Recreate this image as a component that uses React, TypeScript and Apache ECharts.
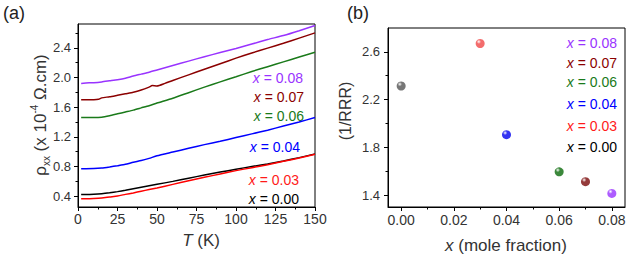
import React, { useEffect, useRef } from "react";
import * as echarts from "echarts";

// ---- Data ----
const T = [2, 5, 10, 15, 20, 25, 30, 35, 40, 45, 50, 60, 70, 80, 90, 100, 110, 120, 130, 140, 150];
const T07 = [2, 5, 10, 13, 15, 20, 25, 30, 35, 40, 45, 47, 50, 55, 60, 70, 80, 90, 100, 110, 120, 130, 140, 150];
const rho000 = [0.425, 0.425, 0.428, 0.435, 0.447, 0.462, 0.48, 0.5, 0.52, 0.54, 0.56, 0.6, 0.643, 0.685, 0.725, 0.764, 0.8, 0.835, 0.875, 0.92, 0.97];
const rho003 = [0.365, 0.365, 0.368, 0.375, 0.39, 0.404, 0.425, 0.445, 0.468, 0.49, 0.512, 0.56, 0.608, 0.655, 0.7, 0.745, 0.785, 0.825, 0.87, 0.915, 0.966];
const rho004 = [0.77, 0.77, 0.772, 0.78, 0.795, 0.812, 0.83, 0.858, 0.88, 0.91, 0.945, 0.995, 1.045, 1.095, 1.14, 1.19, 1.24, 1.29, 1.345, 1.4, 1.46];
const rho006 = [1.46, 1.46, 1.46, 1.465, 1.485, 1.51, 1.535, 1.56, 1.59, 1.62, 1.655, 1.72, 1.795, 1.87, 1.94, 2.01, 2.08, 2.145, 2.21, 2.275, 2.34];
const rho007 = [1.7, 1.7, 1.7, 1.705, 1.725, 1.74, 1.76, 1.78, 1.8, 1.83, 1.87, 1.89, 1.885, 1.92, 1.96, 2.035, 2.11, 2.185, 2.26, 2.33, 2.395, 2.46, 2.53, 2.6];
const rho008 = [1.92, 1.925, 1.93, 1.94, 1.955, 1.97, 1.99, 2.02, 2.045, 2.07, 2.1, 2.16, 2.22, 2.28, 2.335, 2.39, 2.45, 2.51, 2.565, 2.63, 2.7];

const xFrac = [0.0, 0.03, 0.04, 0.06, 0.07, 0.08];
const invRRR = [2.314, 2.67, 1.906, 1.595, 1.512, 1.414];

const yTicksA = [0.4, 0.8, 1.2, 1.6, 2.0, 2.4];
const yMinorA = [0.6, 1.0, 1.4, 1.8, 2.2, 2.6];
const xTicksB = [0.0, 0.02, 0.04, 0.06, 0.08];
const xMinorB = [0.01, 0.03, 0.05, 0.07];
const yTicksB = [1.4, 1.8, 2.2, 2.6];
const yMinorB = [1.6, 2.0, 2.4];

const labelsA = ["0.08", "0.07", "0.06", "0.04", "0.03", "0.00"];
const labelsB = ["0.08", "0.07", "0.06", "0.04", "0.03", "0.00"];

const colorCurve: Record<string, string> = {
  "0.00": "#000000",
  "0.03": "#ff0000",
  "0.04": "#0000ff",
  "0.06": "#1a7a1a",
  "0.07": "#8b0000",
  "0.08": "#9933ff",
};
const colorLabel: Record<string, string> = {
  "0.00": "#000000",
  "0.03": "#ff1a1a",
  "0.04": "#0000ff",
  "0.06": "#1a7a1a",
  "0.07": "#8b0000",
  "0.08": "#9933ff",
};
const colorDot = ["#555555", "#f04848", "#0000ee", "#0a6a0a", "#7a0a0a", "#9933ff"];

const FONT = "'Liberation Sans', Arial, sans-serif";

function pairs(xs: number[], ys: number[]) {
  return xs.map((x, i) => [x, ys[i]]);
}

export default function App() {
  const ref = useRef<HTMLDivElement>(null);
  useEffect(() => {
    if (!ref.current) return;
    const chart = echarts.init(ref.current, undefined, { renderer: "svg" });

    const axisLine = { show: true, onZero: false, lineStyle: { color: "#000", width: 1 } };
    const tickLabel = { color: "#333", fontSize: 13, fontFamily: FONT };

    const curves = [
      { key: "0.00", x: T, y: rho000 },
      { key: "0.03", x: T, y: rho003 },
      { key: "0.04", x: T, y: rho004 },
      { key: "0.06", x: T, y: rho006 },
      { key: "0.07", x: T07, y: rho007 },
      { key: "0.08", x: T, y: rho008 },
    ];

    const labelYA = [78, 97, 116, 147, 180, 199];
    const labelRightA = [303, 304, 304, 300, 299, 299];
    const labelYB = [43, 63, 82, 104, 126, 147];

    const graphics: any[] = [];
    labelsA.forEach((k, i) => {
      graphics.push({
        type: "text",
        x: labelRightA[i],
        y: labelYA[i],
        style: {
          text: "{i|x} = " + k,
          align: "right",
          verticalAlign: "middle",
          fill: colorLabel[k],
          fontSize: 14,
          fontFamily: FONT,
          rich: { i: { fontStyle: "italic", fontSize: 14, fontFamily: FONT, fill: colorLabel[k] } },
        },
      });
    });
    labelsB.forEach((k, i) => {
      graphics.push({
        type: "text",
        x: 617,
        y: labelYB[i],
        style: {
          text: "{i|x} = " + k,
          align: "right",
          verticalAlign: "middle",
          fill: colorLabel[k],
          fontSize: 14,
          fontFamily: FONT,
          rich: { i: { fontStyle: "italic", fontSize: 14, fontFamily: FONT, fill: colorLabel[k] } },
        },
      });
    });
    graphics.push(
      { type: "text", x: 3, y: 13, style: { text: "(a)", fontSize: 18, fontFamily: FONT, fill: "#222", verticalAlign: "middle" } },
      { type: "text", x: 347, y: 13, style: { text: "(b)", fontSize: 18, fontFamily: FONT, fill: "#222", verticalAlign: "middle" } },
      {
        type: "text",
        x: 201,
        y: 240,
        style: {
          text: "{i|T} (K)",
          align: "center",
          verticalAlign: "middle",
          fontSize: 17,
          fontFamily: FONT,
          fill: "#333",
          rich: { i: { fontStyle: "italic", fontSize: 17, fontFamily: FONT, fill: "#333" } },
        },
      },
      {
        type: "text",
        x: 506,
        y: 245,
        style: {
          text: "{i|x} (mole fraction)",
          align: "center",
          verticalAlign: "middle",
          fontSize: 17,
          fontFamily: FONT,
          fill: "#333",
          rich: { i: { fontStyle: "italic", fontSize: 17, fontFamily: FONT, fill: "#333" } },
        },
      },
      {
        type: "text",
        x: 40,
        y: 115,
        rotation: Math.PI / 2,
        style: {
          text: "{a|ρ}{s|xx}{a| (x 10}{p|-4}{a| Ω.cm)}",
          align: "center",
          verticalAlign: "middle",
          fill: "#333",
          fontFamily: FONT,
          rich: {
            a: { fontSize: 17, fontFamily: FONT, fill: "#333", lineHeight: 22, verticalAlign: "middle" },
            s: { fontSize: 10, fontFamily: FONT, fill: "#333", lineHeight: 12, verticalAlign: "bottom" },
            p: { fontSize: 10, fontFamily: FONT, fill: "#333", lineHeight: 12, verticalAlign: "top" },
          },
        },
      },
      {
        type: "text",
        x: 345,
        y: 111,
        rotation: Math.PI / 2,
        style: { text: "(1/RRR)", align: "center", verticalAlign: "middle", fontSize: 16, fontFamily: FONT, fill: "#333" },
      }
    );

    const option: any = {
      animation: false,
      backgroundColor: "#fff",
      grid: [
        { left: 78, top: 24, width: 237, height: 183, show: true, borderColor: "#000", borderWidth: 1, backgroundColor: "transparent" },
        { left: 388, top: 28, width: 237, height: 179, show: true, borderColor: "#000", borderWidth: 1, backgroundColor: "transparent" },
      ],
      xAxis: [
        {
          gridIndex: 0,
          type: "value",
          min: 0,
          max: 150,
          interval: 25,
          axisLine,
          axisTick: { show: true, length: 4, lineStyle: { color: "#000" } },
          minorTick: { show: true, splitNumber: 2, length: 2.5, lineStyle: { color: "#000" } },
          splitLine: { show: false },
          minorSplitLine: { show: false },
          axisLabel: { ...tickLabel, fontSize: 14, margin: 5 },
        },
        {
          gridIndex: 1,
          type: "value",
          min: -0.005,
          max: 0.085,
          axisLine,
          axisTick: { show: true, length: 4, customValues: xTicksB, lineStyle: { color: "#000" } },
          splitLine: { show: false },
          axisLabel: { ...tickLabel, fontSize: 14, margin: 6, customValues: xTicksB, formatter: (v: number) => v.toFixed(2) },
        },
        {
          gridIndex: 1,
          type: "value",
          position: "bottom",
          min: -0.005,
          max: 0.085,
          axisLine: { show: false, onZero: false },
          axisTick: { show: true, length: 2.5, customValues: xMinorB, lineStyle: { color: "#000" } },
          splitLine: { show: false },
          axisLabel: { show: false },
        },
      ],
      yAxis: [
        {
          gridIndex: 0,
          type: "value",
          min: 0.255,
          max: 2.72,
          axisLine,
          axisTick: { show: true, length: 4, customValues: yTicksA, lineStyle: { color: "#000" } },
          splitLine: { show: false },
          axisLabel: { ...tickLabel, margin: 7, customValues: yTicksA, formatter: (v: number) => v.toFixed(1) },
        },
        {
          gridIndex: 0,
          type: "value",
          position: "left",
          min: 0.255,
          max: 2.72,
          axisLine: { show: false, onZero: false },
          axisTick: { show: true, length: 2.5, customValues: yMinorA, lineStyle: { color: "#000" } },
          splitLine: { show: false },
          axisLabel: { show: false },
        },
        {
          gridIndex: 1,
          type: "value",
          min: 1.3,
          max: 2.8,
          axisLine,
          axisTick: { show: true, length: 4, customValues: yTicksB, lineStyle: { color: "#000" } },
          splitLine: { show: false },
          axisLabel: { ...tickLabel, margin: 8, customValues: yTicksB, formatter: (v: number) => v.toFixed(1) },
        },
        {
          gridIndex: 1,
          type: "value",
          position: "left",
          min: 1.3,
          max: 2.8,
          axisLine: { show: false, onZero: false },
          axisTick: { show: true, length: 2.5, customValues: yMinorB, lineStyle: { color: "#000" } },
          splitLine: { show: false },
          axisLabel: { show: false },
        },
      ],
      series: [
        ...curves.map((c) => ({
          type: "line",
          xAxisIndex: 0,
          yAxisIndex: 0,
          data: pairs(c.x, c.y),
          showSymbol: false,
          smooth: 0.2,
          lineStyle: { color: colorCurve[c.key], width: 1.5 },
          z: 3,
        })),
        {
          type: "scatter",
          xAxisIndex: 1,
          yAxisIndex: 2,
          symbolSize: 9,
          data: xFrac.map((x, i) => ({
            value: [x, invRRR[i]],
            itemStyle: {
              color: new echarts.graphic.RadialGradient(0.35, 0.3, 0.7, [
                { offset: 0, color: "#ffffff" },
                { offset: 0.35, color: colorDot[i] },
                { offset: 1, color: colorDot[i] },
              ]),
            },
          })),
          z: 4,
        },
      ],
      graphic: graphics,
    };
    chart.setOption(option);
    return () => chart.dispose();
  }, []);
  return (
    <div
      ref={ref}
      style={{ position: "absolute", left: 0, top: 0, width: 632, height: 257, background: "#fff" }}
    />
  );
}
